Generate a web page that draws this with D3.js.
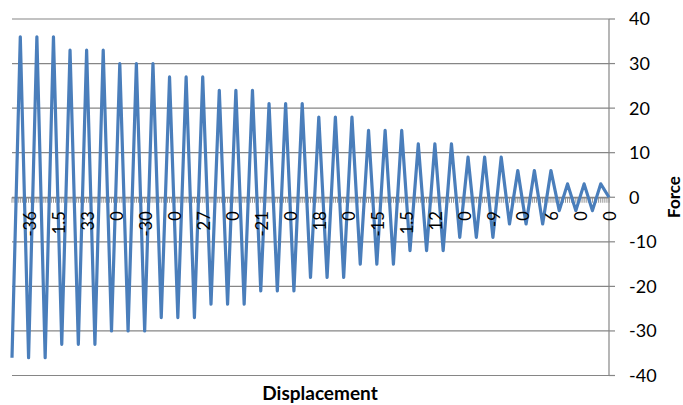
<!DOCTYPE html>
<html>
<head>
<meta charset="utf-8">
<script src="https://cdn.jsdelivr.net/npm/d3@7"></script>
<style>
	body {margin: 0; background: #fff;}
	text {font-family: Lato, 'Open Sans', sans-serif; fill: #000;}
</style>
</head>
<body>
<svg id="chart" width="683" height="405"></svg>
<script>
// Force at each turning point of the loading history (trough / peak).
var forceValues = [
	-36, 36, -36, 36, -36, 36,
	-33, 33, -33, 33, -33, 33,
	-30, 30, -30, 30, -30, 30,
	-27, 27, -27, 27, -27, 27,
	-24, 24, -24, 24, -24, 24,
	-21, 21, -21, 21, -21, 21,
	-18, 18, -18, 18, -18, 18,
	-15, 15, -15, 15, -15, 15,
	-12, 12, -12, 12, -12, 12,
	-9, 9, -9, 9, -9, 9,
	-6, 6, -6, 6, -6, 6,
	-3, 3, -3, 3, -3, 3,
	0
];
// Displacement labels that Excel shows (every 14th category).
var xTickLabels = ['-36', '1.5', '33', '0', '-30', '0', '27', '0', '-21', '0', '18',
	'0', '-15', '1.5', '12', '0', '-9', '0', '6', '0', '0'];
var yTicks = [-40, -30, -20, -10, 0, 10, 20, 30, 40];

(function() {
	'use strict';

	var svg = d3.select('#chart'),
			left = 12, right = 609, top = 19, bottom = 375.5,
			catPerPoint = 4,
			catCount = (forceValues.length - 1) * catPerPoint,
			labelStart = 8.5, labelStep = 14,
			x, y, line;

	x = d3.scaleLinear().domain([0, catCount]).range([left, right]);
	y = d3.scaleLinear().domain([-40, 40]).range([bottom, top]);

	// Horizontal gridlines.
	svg.append('g').selectAll('line').data(yTicks).enter()
		.append('line')
		.attr('x1', left).attr('x2', right)
		.attr('y1', function(d) {return y(d);})
		.attr('y2', function(d) {return y(d);})
		.attr('stroke', '#868686')
		.attr('stroke-width', 1.2);

	// Right value axis.
	svg.append('line')
		.attr('x1', right).attr('x2', right)
		.attr('y1', y(40)).attr('y2', y(-40))
		.attr('stroke', '#868686')
		.attr('stroke-width', 1.2);
	svg.append('g').selectAll('line').data(yTicks).enter()
		.append('line')
		.attr('x1', right).attr('x2', right + 6)
		.attr('y1', function(d) {return y(d);})
		.attr('y2', function(d) {return y(d);})
		.attr('stroke', '#868686')
		.attr('stroke-width', 1.2);
	svg.append('g').selectAll('text').data(yTicks).enter()
		.append('text')
		.style('font-size', '18px')
		.attr('x', 629)
		.attr('y', function(d) {return y(d);})
		.attr('dy', '0.36em')
		.text(function(d) {return d;});

	// Category axis at zero with a tick per category.
	svg.append('line')
		.attr('x1', left).attr('x2', right)
		.attr('y1', y(0) + 0.5).attr('y2', y(0) + 0.5)
		.attr('stroke', '#868686')
		.attr('stroke-width', 1.5);
	svg.append('g').selectAll('line').data(d3.range(catCount + 1)).enter()
		.append('line')
		.attr('x1', function(d) {return x(d);})
		.attr('x2', function(d) {return x(d);})
		.attr('y1', y(0)).attr('y2', y(0) + 5.5)
		.attr('stroke', '#8a8a8a')
		.attr('stroke-width', 0.9);

	// The force line.
	line = d3.line()
		.x(function(d, i) {return x(i * catPerPoint);})
		.y(function(d) {return y(d);});
	svg.append('path')
		.datum(forceValues)
		.attr('d', line)
		.attr('fill', 'none')
		.attr('stroke', '#4a7ebb')
		.attr('stroke-width', 3.2)
		.attr('stroke-linejoin', 'round');

	// Rotated displacement labels.
	svg.append('g').selectAll('text').data(xTickLabels).enter()
		.append('text')
		.style('font-size', '16.5px')
		.attr('text-anchor', 'end')
		.attr('dy', '0.36em')
		.attr('transform', function(d, i) {
			return 'translate(' + x(labelStart + i * labelStep) + ',' + (y(0) + 14) + ')rotate(-90)';})
		.text(function(d) {return d;});

	// Axis titles.
	svg.append('text')
		.style('font-size', '19px')
		.style('font-weight', 'bold')
		.attr('text-anchor', 'middle')
		.attr('x', 320).attr('y', 400)
		.text('Displacement');
	svg.append('text')
		.style('font-size', '17px')
		.style('font-weight', 'bold')
		.attr('text-anchor', 'middle')
		.attr('dy', '0.36em')
		.attr('transform', 'translate(674,197)rotate(-90)')
		.text('Force');
})();
</script>
</body>
</html>
